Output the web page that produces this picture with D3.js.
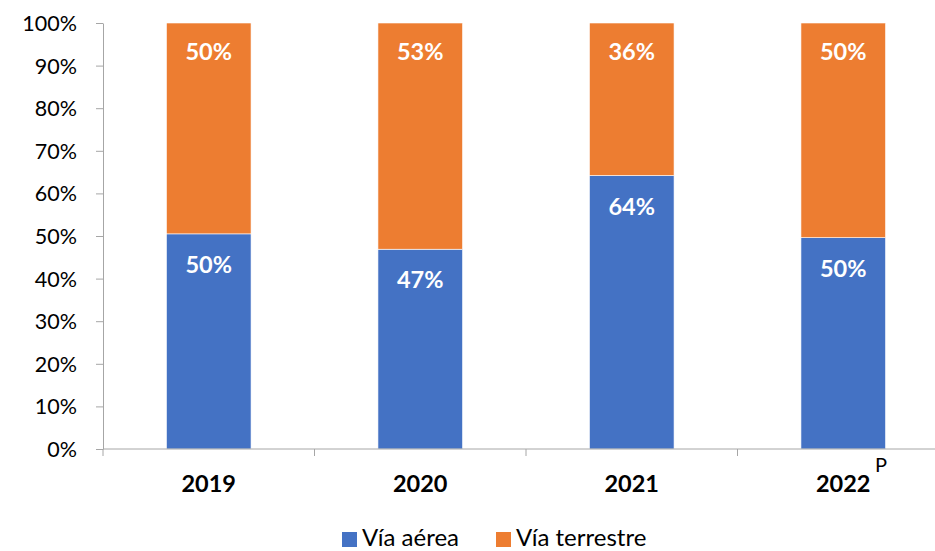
<!DOCTYPE html>
<html><head><meta charset="utf-8">
<script src="https://cdn.jsdelivr.net/npm/d3@7"></script>
<style>body{margin:0;background:#fff}svg{display:block}text{font-family:Lato,"Open Sans",sans-serif}</style>
</head><body>
<svg id="c" width="935" height="551"></svg>
<script>
const categories = ["2019","2020","2021","2022"];
const aerea = [50.5, 46.9, 64.2, 49.6];
const terrestre = [49.5, 53.1, 35.8, 50.4];
const aereaLabels = ["50%","47%","64%","50%"];
const terrestreLabels = ["50%","53%","36%","50%"];
const yTicks = [0,10,20,30,40,50,60,70,80,90,100];
const seriesNames = ["Vía aérea","Vía terrestre"];
const colors = ["#4472C4","#ED7D31"];

const svg = d3.select("#c");
const x = d3.scaleBand().domain(categories).range([103, 949]).padding(0);
const y = d3.scaleLinear().domain([0,100]).range([449, 23]);
const barW = x.bandwidth()*0.4;
const axisColor = "#a6a6a6";

// y axis
const yAxis = svg.append("g").attr("transform","translate(103,0)")
  .call(d3.axisLeft(y).tickValues(yTicks).tickFormat(d=>d+"%").tickSize(7).tickSizeOuter(0));
yAxis.select(".domain").attr("stroke",axisColor);
yAxis.selectAll(".tick line").attr("stroke",axisColor);
yAxis.selectAll(".tick text").attr("font-size",21.5).attr("fill","#000").attr("x",-26).attr("dy","0.35em").style("font-family","Lato");

// bars
const stack = categories.map((c,i)=>({c, a:aerea[i], t:terrestre[i], al:aereaLabels[i], tl:terrestreLabels[i]}));
const g = svg.append("g");
stack.forEach(d=>{
  const cx = x(d.c)+x.bandwidth()/2;
  g.append("rect").attr("x",cx-barW/2).attr("width",barW).attr("y",y(d.a)).attr("height",y(0)-y(d.a)).attr("fill",colors[0]).attr("stroke","#fff").attr("stroke-width",0.6);
  g.append("rect").attr("x",cx-barW/2).attr("width",barW).attr("y",y(d.a+d.t)).attr("height",y(d.a)-y(d.a+d.t)).attr("fill",colors[1]).attr("stroke","#fff").attr("stroke-width",0.6);
  g.append("text").attr("x",cx).attr("y",y(d.a)+39).attr("text-anchor","middle").attr("fill","#fff").attr("font-weight","bold").attr("font-size",23.5).text(d.al);
  g.append("text").attr("x",cx).attr("y",y(d.a+d.t)+37).attr("text-anchor","middle").attr("fill","#fff").attr("font-weight","bold").attr("font-size",23.5).text(d.tl);
});

// x axis
const xg = svg.append("g").attr("transform","translate(0,449)");
xg.append("line").attr("x1",103).attr("x2",949).attr("stroke",axisColor);
d3.range(categories.length+1).forEach(i=>{
  const xx = 103 + i*x.step();
  xg.append("line").attr("x1",xx).attr("x2",xx).attr("y1",0).attr("y2",7).attr("stroke",axisColor);
});
categories.forEach(c=>{
  xg.append("text").attr("x",x(c)+x.bandwidth()/2).attr("y",43).attr("text-anchor","middle").attr("font-weight","bold").attr("font-size",23.5).attr("fill","#000").text(c);
});
svg.append("text").attr("x",875).attr("y",472).attr("font-size",20).attr("fill","#000").text("P");

// legend
const leg = [{n:seriesNames[0],c:colors[0],x:342},{n:seriesNames[1],c:colors[1],x:496}];
leg.forEach(l=>{
  svg.append("rect").attr("x",l.x).attr("y",532).attr("width",15).attr("height",15).attr("fill",l.c);
  svg.append("text").attr("x",l.x+20).attr("y",546).attr("font-size",24).attr("fill","#000").text(l.n);
});
</script>
</body></html>
